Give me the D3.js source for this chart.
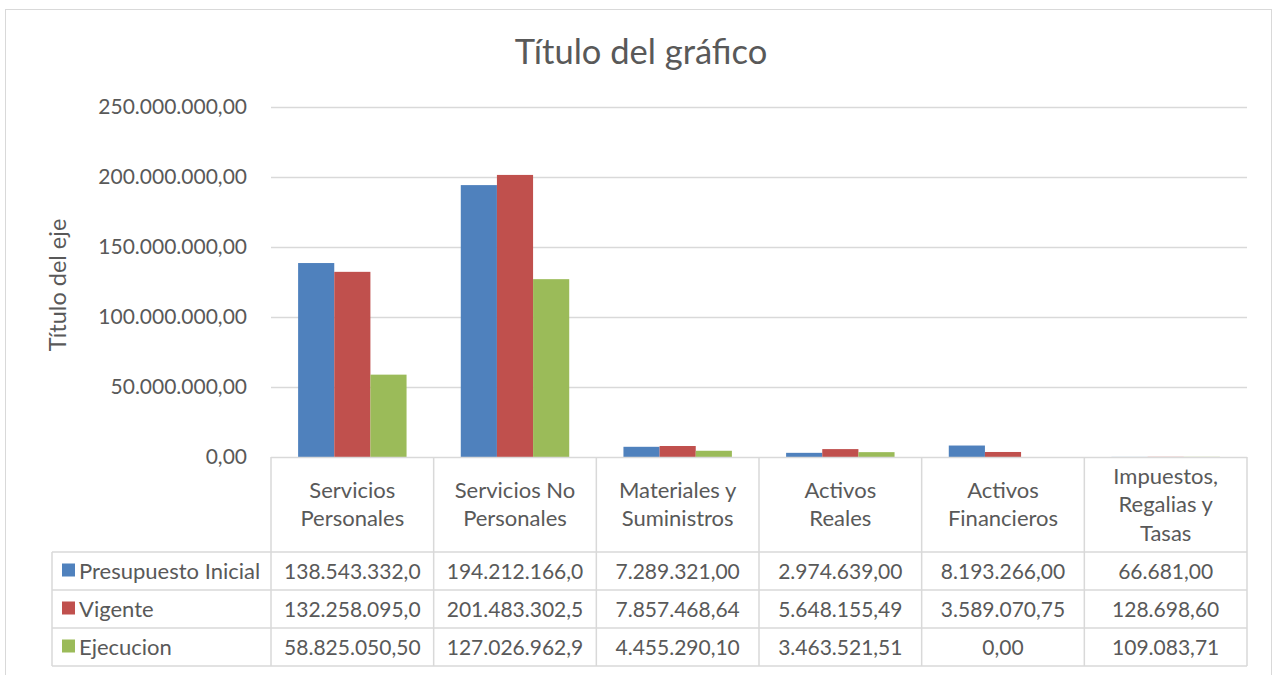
<!DOCTYPE html>
<html><head><meta charset="utf-8">
<script src="https://cdn.jsdelivr.net/npm/d3@7"></script>
<style>body{margin:0;background:#fff}svg{display:block;font-family:Lato,"Open Sans",sans-serif}</style>
</head><body><svg id="c" width="1278" height="675"></svg>
<script>
const categories = ["Servicios\nPersonales","Servicios No\nPersonales","Materiales y\nSuministros","Activos\nReales","Activos\nFinancieros","Impuestos,\nRegalias y\nTasas"];
const seriesNames = ["Presupuesto Inicial","Vigente","Ejecucion"];
const presupuestoInicial = [138543332.0, 194212166.0, 7289321.00, 2974639.00, 8193266.00, 66681.00];
const vigente = [132258095.0, 201483302.5, 7857468.64, 5648155.49, 3589070.75, 128698.60];
const ejecucion = [58825050.50, 127026962.9, 4455290.10, 3463521.51, 0.00, 109083.71];
const yTicks = [0, 50000000, 100000000, 150000000, 200000000, 250000000];
const colors = ["#4F81BD","#C0504D","#9BBB59"];
const series = [presupuestoInicial, vigente, ejecucion];

const svg = d3.select("#c");
const L = 271, R = 1247, T = 107, B = 457;
const tableLeft = 52, headerBottom = 552, rowH = 38;
const txt = "#595959";

// frame
svg.append("rect").attr("x",5.5).attr("y",9.5).attr("width",1266).attr("height",700)
  .attr("fill","#fff").attr("stroke","#D9D9D9").attr("stroke-width",1);

const x0 = d3.scaleBand().domain(d3.range(categories.length)).range([L,R]).paddingInner(0).paddingOuter(0);
const bw = x0.bandwidth();
const x1 = d3.scaleBand().domain(d3.range(3)).range([0,bw]).paddingInner(0).paddingOuter(0.75);
const y = d3.scaleLinear().domain([0,250000000]).range([B,T]);

const fmt = v => {
  const s = v.toFixed(2).split(".");
  return s[0].replace(/\B(?=(\d{3})+(?!\d))/g,".") + "," + s[1];
};

// gridlines
svg.append("g").selectAll("line").data(yTicks.slice(1)).join("line")
  .attr("x1",L).attr("x2",R).attr("y1",d=>Math.round(y(d))+0.5).attr("y2",d=>Math.round(y(d))+0.5)
  .attr("stroke","#D9D9D9").attr("stroke-width",1.3);

// y axis labels
const yAxis = d3.axisLeft(y).tickValues(yTicks).tickFormat(fmt).tickSize(0).tickPadding(24);
const ga = svg.append("g").attr("transform",`translate(${L},0)`).call(yAxis);
ga.select(".domain").remove();
ga.selectAll("text").attr("fill",txt).style("font-size","21px").style("font-family","Lato,sans-serif");

// axis title
svg.append("text").attr("transform",`translate(66,${(T+B)/2+3}) rotate(-90)`).attr("text-anchor","middle")
  .attr("fill",txt).style("font-size","23.5px").text("Título del eje");

// title
svg.append("text").attr("x",641).attr("y",64).attr("text-anchor","middle").attr("fill",txt)
  .style("font-size","34.5px").text("Título del gráfico");

// bars
series.forEach((vals,si)=>{
  svg.append("g").selectAll("rect").data(vals).join("rect")
    .attr("x",(d,i)=>x0(i)+x1(si)).attr("width",x1.bandwidth())
    .attr("y",d=>y(d)).attr("height",d=>B-y(d)).attr("fill",colors[si]);
});

// table grid
const tg = svg.append("g").attr("stroke","#D9D9D9").attr("stroke-width",1.5);
const bottom = headerBottom + rowH*3;
tg.append("line").attr("x1",L).attr("x2",R).attr("y1",B+0.5).attr("y2",B+0.5);
[0,1,2,3].forEach(r=>{
  tg.append("line").attr("x1",tableLeft).attr("x2",R).attr("y1",headerBottom+r*rowH).attr("y2",headerBottom+r*rowH);
});
d3.range(categories.length+1).forEach(i=>{
  const xx = i<categories.length ? x0(i) : R;
  tg.append("line").attr("x1",xx).attr("x2",xx).attr("y1",B).attr("y2",bottom);
});
tg.append("line").attr("x1",tableLeft).attr("x2",tableLeft).attr("y1",headerBottom).attr("y2",bottom);

// header labels
categories.forEach((c,i)=>{
  const lines = c.split("\n");
  const cy = (B+headerBottom)/2;
  const lh = 28.5;
  const t = svg.append("text").attr("text-anchor","middle").attr("fill",txt).style("font-size","22px");
  lines.forEach((ln,j)=>{
    t.append("tspan").attr("x",x0(i)+bw/2).attr("y",cy + (j-(lines.length-1)/2)*lh + 7.5).text(ln);
  });
});

// rows
series.forEach((vals,si)=>{
  const ry = headerBottom + si*rowH + rowH/2 + 7.5;
  svg.append("rect").attr("x",62).attr("y",ry-15).attr("width",13).attr("height",13).attr("fill",colors[si]);
  svg.append("text").attr("x",79).attr("y",ry).attr("fill",txt).style("font-size","22px").text(seriesNames[si]);
  vals.forEach((v,i)=>{
    let s = fmt(v); if (s.length>13) s = s.slice(0,13);
    svg.append("text").attr("x",x0(i)+bw/2).attr("y",ry).attr("text-anchor","middle")
      .attr("fill",txt).style("font-size","21px").text(s);
  });
});
</script></body></html>
